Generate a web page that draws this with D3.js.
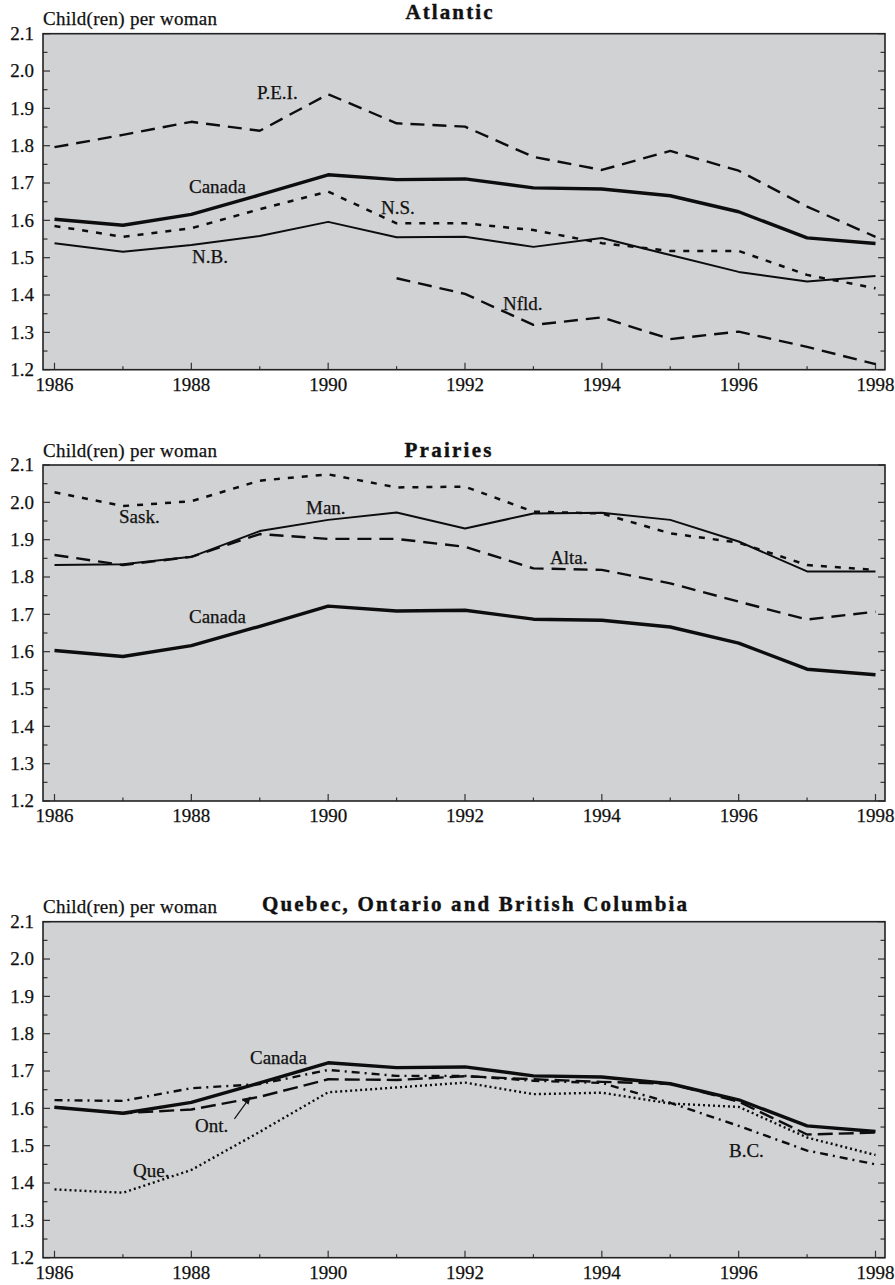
<!DOCTYPE html>
<html>
<head>
<meta charset="utf-8">
<script src="https://cdn.jsdelivr.net/npm/d3@7"></script>
<style>
  html, body { margin: 0; padding: 0; background: #ffffff; }
  svg { display: block; }
  text { font-family: "Liberation Serif", "Times New Roman", serif; fill: #111; stroke: #111; stroke-width: 0.25px; }
</style>
</head>
<body>
<svg id="chart" width="895" height="1285"></svg>
<script>
// ---------- DATA ----------
const years = [1986, 1987, 1988, 1989, 1990, 1991, 1992, 1993, 1994, 1995, 1996, 1997, 1998];
const xTickLabels = ["1986", "1988", "1990", "1992", "1994", "1996", "1998"];
const yTickLabels = ["1.2", "1.3", "1.4", "1.5", "1.6", "1.7", "1.8", "1.9", "2.0", "2.1"];

const canada = [1.603, 1.587, 1.616, 1.668, 1.722, 1.709, 1.711, 1.687, 1.684, 1.666, 1.623, 1.553, 1.538];

// Atlantic
const pei  = [1.796, 1.829, 1.864, 1.840, 1.938, 1.860, 1.851, 1.770, 1.735, 1.786, 1.733, 1.637, 1.556];
const ns   = [1.585, 1.556, 1.579, 1.630, 1.677, 1.592, 1.592, 1.574, 1.539, 1.518, 1.518, 1.454, 1.418];
const nb   = [1.539, 1.516, 1.534, 1.558, 1.596, 1.555, 1.556, 1.529, 1.553, 1.507, 1.462, 1.436, 1.451];
const nfld = [null, null, null, null, null, 1.445, 1.403, 1.320, 1.340, 1.282, 1.302, 1.261, 1.215];

// Prairies
const sask = [2.027, 1.990, 2.003, 2.058, 2.075, 2.040, 2.042, 1.975, 1.970, 1.917, 1.892, 1.832, 1.819];
const man  = [1.832, 1.834, 1.854, 1.923, 1.953, 1.973, 1.930, 1.970, 1.972, 1.953, 1.895, 1.815, 1.815];
const alta = [1.859, 1.832, 1.854, 1.915, 1.902, 1.902, 1.881, 1.823, 1.819, 1.783, 1.734, 1.686, 1.707];

// Quebec, Ontario, British Columbia
const ont  = [1.603, 1.587, 1.597, 1.631, 1.678, 1.676, 1.686, 1.678, 1.671, 1.666, 1.618, 1.530, 1.535];
const bc   = [1.622, 1.620, 1.654, 1.665, 1.703, 1.687, 1.687, 1.674, 1.668, 1.615, 1.553, 1.487, 1.450];
const que  = [1.383, 1.374, 1.435, 1.537, 1.643, 1.656, 1.669, 1.638, 1.642, 1.613, 1.604, 1.522, 1.475];

// ---------- STYLES ----------
const styles = {
  canada: { w: 3.4, dash: null },
  thin:   { w: 2.0, dash: null },
  longdash: { w: 2.4, dash: "14,8" },
  shortdash: { w: 2.5, dash: "6,8" },
  dashdot: { w: 2.4, dash: "8,5,2,5" },
  dotted: { w: 2.4, dash: "2,3" },
  ontdash: { w: 2.4, dash: "15,6" }
};

const panels = [
  {
    title: "Atlantic", titleX: 449, titleLen: 87, titleDy: 14.4, top: 33.7,
    series: [
      { v: pei, s: "longdash" },
      { v: ns, s: "shortdash" },
      { v: nb, s: "thin" },
      { v: nfld, s: "longdash" },
      { v: canada, s: "canada" }
    ],
    labels: [
      { t: "P.E.I.", x: 257, y: 99 },
      { t: "Canada", x: 189, y: 193 },
      { t: "N.S.", x: 381, y: 214 },
      { t: "N.B.", x: 192, y: 263 },
      { t: "Nfld.", x: 503, y: 310 }
    ]
  },
  {
    title: "Prairies", titleX: 448, titleLen: 87, titleDy: 8.3, top: 465,
    series: [
      { v: sask, s: "shortdash" },
      { v: man, s: "thin" },
      { v: alta, s: "longdash" },
      { v: canada, s: "canada" }
    ],
    labels: [
      { t: "Sask.", x: 119, y: 523 },
      { t: "Man.", x: 306, y: 514 },
      { t: "Alta.", x: 550, y: 564 },
      { t: "Canada", x: 189, y: 623 }
    ]
  },
  {
    title: "Quebec, Ontario and British Columbia", titleX: 474.5, titleLen: 425, titleDy: 11, top: 921.7,
    series: [
      { v: que, s: "dotted" },
      { v: bc, s: "dashdot" },
      { v: ont, s: "ontdash" },
      { v: canada, s: "canada" }
    ],
    labels: [
      { t: "Canada", x: 250, y: 1064 },
      { t: "Ont.", x: 195, y: 1132 },
      { t: "Que.", x: 133, y: 1177 },
      { t: "B.C.", x: 729, y: 1157 }
    ],
    arrow: { from: [1988.63, 1.572], to: [1988.86, 1.630] }
  }
];

// ---------- GEOMETRY ----------
const frameLeft = 43, frameRight = 885, plotH = 336;
const x = d3.scaleLinear().domain([1986, 1998]).range([54.5, 875.5]);

const svg = d3.select("#chart");
svg.append("defs").append("marker")
  .attr("id", "arrowhead")
  .attr("viewBox", "0 0 10 10")
  .attr("refX", 9).attr("refY", 5)
  .attr("markerWidth", 8).attr("markerHeight", 8)
  .attr("markerUnits", "userSpaceOnUse")
  .attr("orient", "auto")
  .append("path").attr("d", "M0,1 L10,5 L0,9 Z").attr("fill", "#111");

panels.forEach(p => {
  const y = d3.scaleLinear().domain([1.2, 2.1]).range([p.top + plotH, p.top]);
  const g = svg.append("g");

  // background
  g.append("rect")
    .attr("x", frameLeft).attr("y", p.top)
    .attr("width", frameRight - frameLeft).attr("height", plotH)
    .attr("fill", "#d1d2d4");

  // y ticks (inward) left & right
  const yTicks = d3.range(0, 19).map(i => 1.2 + i * 0.05);
  yTicks.forEach((v, i) => {
    const len = (i % 2 === 0) ? 7 : 4.5;
    g.append("line").attr("x1", frameLeft).attr("x2", frameLeft + len)
      .attr("y1", y(v)).attr("y2", y(v)).attr("stroke", "#333").attr("stroke-width", 1.2);
    g.append("line").attr("x1", frameRight).attr("x2", frameRight - len)
      .attr("y1", y(v)).attr("y2", y(v)).attr("stroke", "#333").attr("stroke-width", 1.2);
  });
  // x ticks (inward from bottom)
  years.forEach((yr, i) => {
    const len = (i % 2 === 0) ? 7 : 3.5;
    g.append("line").attr("x1", x(yr)).attr("x2", x(yr))
      .attr("y1", p.top + plotH).attr("y2", p.top + plotH - len)
      .attr("stroke", "#333").attr("stroke-width", 1.2);
  });

  // y labels
  yTickLabels.forEach(lbl => {
    g.append("text").attr("x", 34).attr("y", y(+lbl))
      .attr("dy", "0.34em").attr("text-anchor", "end")
      .attr("font-size", 19).text(lbl);
  });
  // x labels
  xTickLabels.forEach(lbl => {
    g.append("text").attr("x", x(+lbl)).attr("y", p.top + plotH + 21)
      .attr("text-anchor", "middle").attr("font-size", 19).text(lbl);
  });

  // series
  const line = d3.line()
    .defined(d => d.v != null)
    .x(d => x(d.yr)).y(d => y(d.v));
  p.series.forEach(s => {
    const st = styles[s.s];
    const data = years.map((yr, i) => ({ yr, v: s.v[i] }));
    g.append("path").datum(data)
      .attr("d", line)
      .attr("fill", "none")
      .attr("stroke", "#0d0d0d")
      .attr("stroke-width", st.w)
      .attr("stroke-linejoin", "round")
      .attr("stroke-dasharray", st.dash);
  });

  // frame
  g.append("rect")
    .attr("x", frameLeft).attr("y", p.top)
    .attr("width", frameRight - frameLeft).attr("height", plotH)
    .attr("fill", "none").attr("stroke", "#222").attr("stroke-width", 1.6);

  // labels
  p.labels.forEach(l => {
    g.append("text").attr("x", l.x).attr("y", l.y)
      .attr("font-size", 19).text(l.t);
  });

  if (p.arrow) {
    g.append("line")
      .attr("x1", x(p.arrow.from[0])).attr("y1", y(p.arrow.from[1]))
      .attr("x2", x(p.arrow.to[0])).attr("y2", y(p.arrow.to[1]))
      .attr("stroke", "#111").attr("stroke-width", 1.2)
      .attr("marker-end", "url(#arrowhead)");
  }

  // axis title and panel title
  g.append("text").attr("x", frameLeft).attr("y", p.top - 8.4)
    .attr("font-size", 19).attr("textLength", 174).attr("lengthAdjust", "spacing")
    .text("Child(ren) per woman");
  g.append("text").attr("x", p.titleX).attr("y", p.top - p.titleDy)
    .attr("text-anchor", "middle").attr("font-size", 21).attr("font-weight", "bold")
    .attr("textLength", p.titleLen).attr("lengthAdjust", "spacing")
    .style("stroke-width", "0.4px")
    .text(p.title);
});
</script>
</body>
</html>
